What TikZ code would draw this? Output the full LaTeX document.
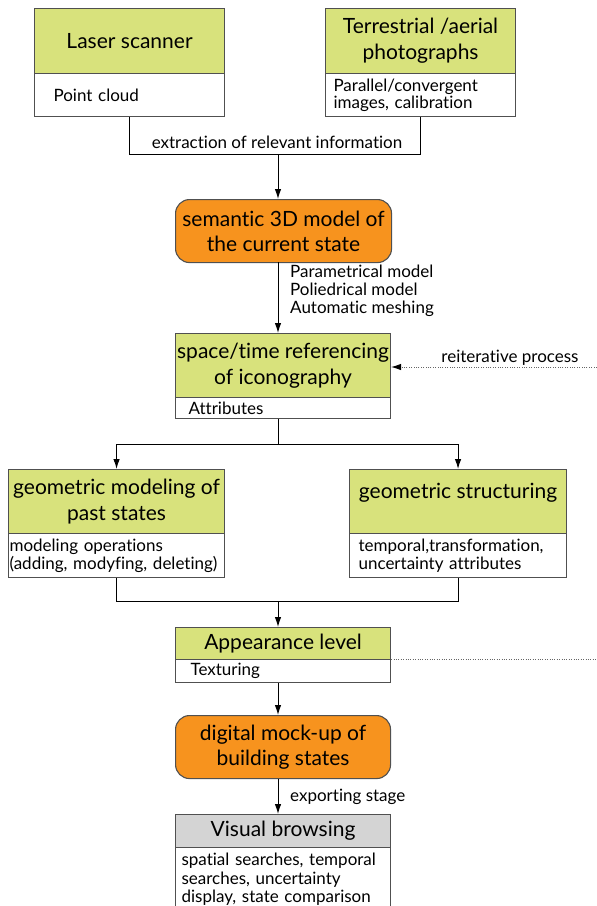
\documentclass[tikz,border=0pt]{standalone}
\usepackage{fontspec}
\setmainfont[Ligatures={NoCommon}]{Lato}
\usetikzlibrary{arrows.meta}
\definecolor{hgreen}{HTML}{D8E27C}
\definecolor{horange}{HTML}{F7931E}
\definecolor{hgray}{HTML}{D4D4D4}
\definecolor{edgec}{HTML}{505050}
\tikzset{
  box/.style={draw=edgec, line width=1.1pt, inner sep=0pt, anchor=north west},
  hdr/.style={box, fill=hgreen, align=center, font=\fontsize{21}{26}\selectfont},
  ghdr/.style={hdr, fill=hgray},
  obox/.style={box, fill=horange, rounded corners=14pt, align=center, font=\fontsize{21}{25}\selectfont},
  body/.style={box, fill=white, align=left, font=\fontsize{17}{17.5}\selectfont},
  lbl/.style={inner sep=0pt, align=left, font=\fontsize{17}{18}\selectfont},
  conn/.style={draw=black, line width=1pt},
  arr/.style={conn, -{Latex[length=10pt,width=6.5pt]}},
  dotl/.style={draw=gray!80!black, line width=0.9pt, dash pattern=on 1pt off 1.4pt}
}
\begin{document}
\begin{tikzpicture}[x=1pt, y=-1pt]
\useasboundingbox[fill=white] (0,0) rectangle (597,906);
% top boxes
\node[hdr, minimum width=190pt, minimum height=65pt] (lsH) at (34,8) {Laser scanner};
\node[body, text width=152pt, inner xsep=19pt, minimum height=43pt] (lsB) at (34,73) {Point cloud};
\node[hdr, minimum width=190pt, minimum height=65pt] (tpH) at (325,8) {Terrestrial /aerial\\photographs};
\node[body, text width=174pt, inner xsep=8pt, minimum height=43pt] (tpB) at (325,73) {Parallel/convergent\\images, calibration};
% orange 1
\node[obox, minimum width=216pt, minimum height=63pt] (o1) at (175,199) {semantic 3D model of\\the current state};
% space/time
\node[hdr, minimum width=215pt, minimum height=64pt] (stH) at (175,333) {space/time referencing\\of iconography};
\node[body, text width=189pt, inner xsep=13pt, minimum height=21pt] (stB) at (175,397) {Attributes};
% geometric boxes
\node[hdr, minimum width=216pt, minimum height=64pt] (gmH) at (8,469) {geometric modeling of\\past states};
\node[body, text width=214pt, inner xsep=1pt, minimum height=44pt] (gmB) at (8,533) {modeling operations\\(adding, modyfing, deleting)};
\node[hdr, minimum width=217pt, minimum height=64pt, text depth=22pt] (gsH) at (349,469) {geometric structuring};
\node[body, text width=199pt, inner xsep=9pt, minimum height=44pt] (gsB) at (349,533) {temporal,transformation,\\uncertainty attributes};
% appearance
\node[hdr, minimum width=215pt, minimum height=32pt] (apH) at (175,627) {Appearance level};
\node[body, text width=185pt, inner xsep=15pt, minimum height=23pt] (apB) at (175,659) {Texturing};
% orange 2
\node[obox, minimum width=215pt, minimum height=63pt] (o2) at (175,715) {digital mock-up of\\building states};
% visual browsing
\node[ghdr, minimum width=215pt, minimum height=33pt] (vbH) at (175,814) {Visual browsing};
\node[body, text width=203pt, inner xsep=6pt, minimum height=64pt, font=\fontsize{17}{18.5}\selectfont] (vbB) at (175,847) {spatial searches, temporal\\searches, uncertainty\\display, state comparison};
% connectors
\coordinate (j1) at (278,154);
\draw[conn] (lsB.south) |- (j1);
\draw[conn] (tpB.south) |- (j1);
\node[lbl, anchor=base] (ext) at (277,148) {extraction of relevant information};
\draw[arr] (j1) -- (o1.north -| j1);
\coordinate (j0) at (278,262);
\draw[arr] (j0) -- (stH.north -| j0);
\node[lbl, anchor=north west] (par) at (290,265) {Parametrical model\\Poliedrical model\\Automatic meshing};
\coordinate (r1) at (597,367);
\draw[dotl, -{Latex[length=10pt,width=6.5pt,color=black]}] (r1) -- (stH.east |- r1);
\node[lbl, anchor=base] (rei) at (510,362) {reiterative process};
\coordinate (j2) at (278,444);
\draw[conn] (stB.south -| j2) -- (j2);
\draw[arr] (j2) -| (gmH.north);
\draw[arr] (j2) -| (gsH.north);
\coordinate (j3) at (278,601);
\draw[conn] (gmB.south) |- (j3);
\draw[conn] (gsB.south) |- (j3);
\draw[arr] (j3) -- (apH.north -| j3);
\coordinate (r2) at (597,659);
\draw[dotl] (apB.north east) -- (r2);
\draw[arr] (apB.south -| j3) -- (o2.north -| j3);
\draw[arr] (o2.south -| j3) -- (vbH.north -| j3);
\node[lbl, anchor=base west] (exp) at (290,801) {exporting stage};
\end{tikzpicture}
\end{document}
